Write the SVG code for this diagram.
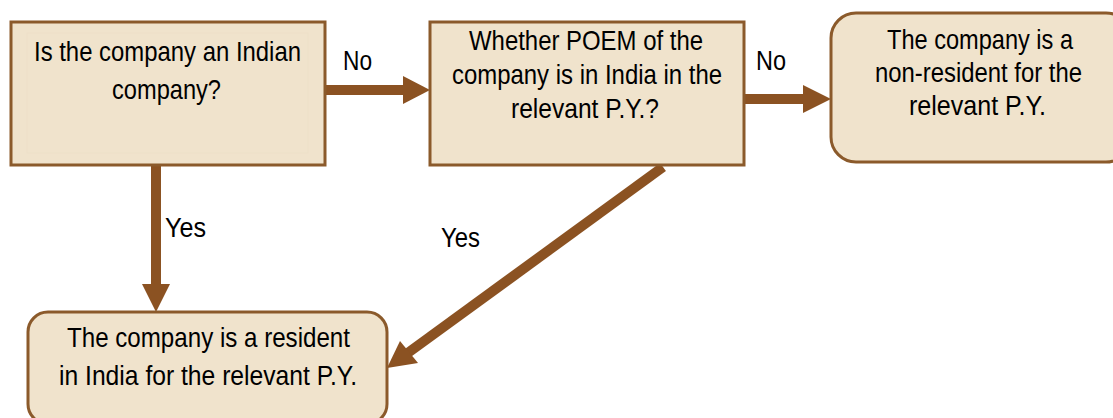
<svg xmlns="http://www.w3.org/2000/svg" width="1113" height="418" viewBox="0 0 1113 418">
<style>
.box{fill:#F0E3CC;stroke:#8B5A2B;stroke-width:3}
.t{font-family:"Liberation Sans",Arial,sans-serif;font-size:27.5px;fill:#000;text-anchor:start}
.c{fill:none;stroke:#8B5222;stroke-width:10}
.h{fill:#8B5222}
</style>
<rect width="1113" height="418" fill="#fff"/>
<g id="connectors">
<line class="c" x1="325" y1="90" x2="405" y2="90"/>
<polygon class="h" points="403,76 430,90 403,104"/>
<line class="c" x1="744" y1="99" x2="805" y2="99"/>
<polygon class="h" points="803,85 831,99 803,113"/>
<line class="c" x1="156" y1="165" x2="156" y2="286"/>
<polygon class="h" points="142,284 170,284 156,312"/>
<line class="c" stroke-width="9" x1="663" y1="167" x2="405" y2="355"/>
<polygon class="h" points="387,368 400,341 418,363"/>
<text class="t" x="343" y="70" textLength="29" lengthAdjust="spacingAndGlyphs">No</text>
<text class="t" x="756" y="70" textLength="30" lengthAdjust="spacingAndGlyphs">No</text>
<text class="t" x="165" y="237" textLength="41" lengthAdjust="spacingAndGlyphs">Yes</text>
<text class="t" x="441" y="247" textLength="39" lengthAdjust="spacingAndGlyphs">Yes</text>
</g>
<g id="n1">
<rect class="box" x="11" y="22" width="314" height="143"/>
<rect x="27" y="33" width="281" height="120" fill="none" stroke="#EDE0C8" stroke-width="1"/>
<text class="t" x="34" y="61" textLength="267" lengthAdjust="spacingAndGlyphs">Is the company an Indian</text>
<text class="t" x="112" y="99" textLength="109" lengthAdjust="spacingAndGlyphs">company?</text>
</g>
<g id="n2">
<rect class="box" x="430" y="22" width="314" height="143"/>
<text class="t" x="469" y="50" textLength="234" lengthAdjust="spacingAndGlyphs">Whether POEM of the</text>
<text class="t" x="452" y="84" textLength="270" lengthAdjust="spacingAndGlyphs">company is in India in the</text>
<text class="t" x="511" y="118" textLength="148" lengthAdjust="spacingAndGlyphs">relevant P.Y.?</text>
</g>
<g id="n3">
<rect class="box" x="831" y="13" width="300" height="149" rx="25" ry="25"/>
<text class="t" x="887" y="49" textLength="186" lengthAdjust="spacingAndGlyphs">The company is a</text>
<text class="t" x="875" y="82" textLength="207" lengthAdjust="spacingAndGlyphs">non-resident for the</text>
<text class="t" x="909" y="115" textLength="137" lengthAdjust="spacingAndGlyphs">relevant P.Y.</text>
</g>
<g id="n4">
<rect class="box" x="28" y="312" width="359" height="112" rx="20" ry="20"/>
<text class="t" x="67" y="347" textLength="283" lengthAdjust="spacingAndGlyphs">The company is a resident</text>
<text class="t" x="59" y="385" textLength="298" lengthAdjust="spacingAndGlyphs">in India for the relevant P.Y.</text>
</g>
</svg>
